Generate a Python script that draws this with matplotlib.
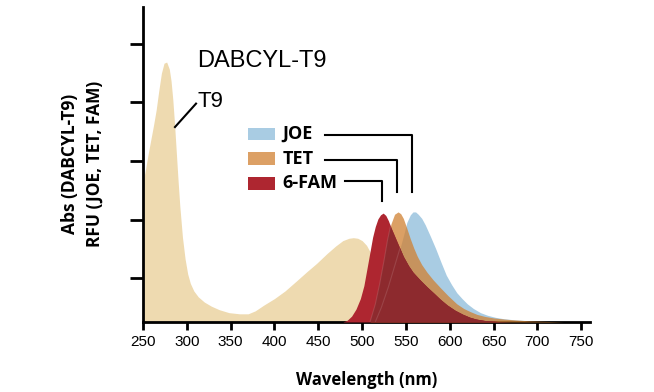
import numpy as np
import matplotlib.pyplot as plt
from matplotlib.patches import Rectangle

# DABCYL-T9 absorbance
t9_nm = [250, 253, 256, 259, 262, 265, 268, 271, 274, 277, 280, 282, 284, 286, 288,
         290, 292, 295, 298, 301, 304, 308, 313, 320, 328, 337, 348, 360, 370, 378,
         388, 400, 412, 425, 437, 448, 460, 470, 478, 485, 490, 495, 500, 505, 509,
         513, 517, 521, 525, 530, 535]
t9_val = [2.38, 2.62, 2.88, 3.12, 3.36, 3.62, 3.95, 4.25, 4.42, 4.44, 4.32, 4.12, 3.8, 3.38, 2.9,
          2.42, 1.98, 1.45, 1.08, 0.82, 0.66, 0.53, 0.43, 0.34, 0.27, 0.21, 0.16, 0.14, 0.14, 0.19,
          0.29, 0.4, 0.53, 0.7, 0.86, 1.0, 1.17, 1.3, 1.39, 1.43, 1.44, 1.43, 1.39, 1.31, 1.2,
          1.0, 0.75, 0.45, 0.2, 0.05, 0.0]

# JOE emission
joe_nm = [515, 522, 530, 538, 544, 548, 551, 555, 558, 561, 564, 568, 572, 578,
          584, 590, 596, 602, 608, 614, 620, 627, 635, 643, 652, 662, 675, 690, 707, 722]
joe_val = [0.0, 0.25, 0.6, 1.0, 1.3, 1.52, 1.7, 1.83, 1.88, 1.88, 1.84, 1.77, 1.66, 1.46,
           1.25, 1.02, 0.8, 0.64, 0.5, 0.4, 0.31, 0.23, 0.16, 0.115, 0.08, 0.055, 0.035, 0.022, 0.012, 0.0]

# TET emission
tet_nm = [509, 515, 520, 525, 529, 533, 537, 541, 544, 547, 551, 555, 559, 563,
          568, 574, 581, 589, 598, 608, 616, 623, 631, 640, 650, 662, 675, 690, 710, 730]
tet_val = [0.0, 0.3, 0.65, 1.05, 1.4, 1.68, 1.84, 1.88, 1.85, 1.77, 1.6, 1.42, 1.26, 1.12,
           0.98, 0.85, 0.72, 0.59, 0.45, 0.31, 0.23, 0.18, 0.13, 0.095, 0.07, 0.05, 0.035, 0.02, 0.01, 0.0]

# 6-FAM emission
fam_nm = [478, 483, 488, 493, 498, 502, 506, 509, 512, 515, 518, 521, 524, 527, 530,
          533, 537, 541, 547, 553, 558, 566, 574, 582, 589, 597, 606, 615, 623, 630,
          640, 655, 670]
fam_val = [0.0, 0.03, 0.1, 0.22, 0.4, 0.62, 0.95, 1.2, 1.45, 1.63, 1.76, 1.83, 1.86, 1.82, 1.73,
           1.61, 1.47, 1.33, 1.12, 0.96, 0.85, 0.72, 0.6, 0.49, 0.39, 0.29, 0.2, 0.13, 0.08, 0.05,
           0.025, 0.008, 0.0]

xticks = [250, 300, 350, 400, 450, 500, 550, 600, 650, 700, 750]

C_T9 = "#EEDAB0"
C_JOE = "#A9CCE3"
C_TET = "#D08031"     # drawn at alpha 0.75 -> looks like #DCA065 on white
C_FAM = "#AE2630"
C_FAM_DARK = "#8D2A2E"

fig = plt.figure(figsize=(6.54, 3.92), dpi=100)
ax = fig.add_axes([143 / 654, 70 / 392, 447 / 654, 315 / 392])

ax.fill_between(t9_nm, t9_val, 0, color=C_T9, lw=0, zorder=1)
joe_poly = ax.fill_between(joe_nm, joe_val, 0, color=C_JOE, lw=0, zorder=2)
tet_poly = ax.fill_between(tet_nm, tet_val, 0, color=C_TET, alpha=0.75, lw=0, zorder=3)
fam_poly = ax.fill_between(fam_nm, fam_val, 0, color=C_FAM, lw=0, zorder=4)

# darker red where 6-FAM sits over TET / JOE
for under in (tet_poly, joe_poly):
    dark = ax.fill_between(fam_nm, fam_val, 0, color=C_FAM_DARK, lw=0, zorder=4.5)
    dark.set_clip_path(under.get_paths()[0], ax.transData)

# faint edges of TET / JOE showing through the red
for xs, ys in ((tet_nm, tet_val), (joe_nm, joe_val)):
    ln, = ax.plot(xs, ys, color="white", alpha=0.12, lw=0.8, zorder=5)
    ln.set_clip_path(fam_poly.get_paths()[0], ax.transData)

ax.set_xlim(250, 760)
ax.set_ylim(0, 5.38)
ax.set_xticks(xticks)
ax.set_yticks([0.75, 1.75, 2.75, 3.75, 4.75])
ax.set_yticklabels([])
for s in ["top", "right"]:
    ax.spines[s].set_visible(False)
for s in ["left", "bottom"]:
    ax.spines[s].set_linewidth(2)
ax.tick_params(axis="x", length=6, width=2, labelsize=11, pad=3)
ax.tick_params(axis="y", length=9.5, width=2)
for lbl in ax.get_xticklabels():
    lbl.set_family("Liberation Sans")

ax.set_xlabel("Wavelength (nm)", fontsize=12, fontweight="bold",
              family="Open Sans", labelpad=16)
fig.text(0.107, 0.582, "Abs (DABCYL-T9)", rotation=90, ha="center", va="center",
         fontsize=12.5, fontweight="bold", family="Open Sans")
fig.text(0.145, 0.582, "RFU (JOE, TET, FAM)", rotation=90, ha="center", va="center",
         fontsize=12.5, fontweight="bold", family="Open Sans")

# annotations
ax.text(312, 4.46, "DABCYL-T9", fontsize=17, family="Liberation Sans",
        ha="left", va="center", zorder=6)
ax.text(312, 3.76, "T9", fontsize=16, family="Liberation Sans",
        ha="left", va="center", zorder=6)
ax.plot([286.5, 310.5], [3.33, 3.73], color="black", lw=1.5, zorder=6)

# legend with leader lines
names = ["JOE", "TET", "6-FAM"]
cols = [C_JOE, "#DCA065", C_FAM]
peaks = [joe_nm[np.argmax(joe_val)], tet_nm[np.argmax(tet_val)], fam_nm[np.argmax(fam_val)]]
row_y = [3.21, 2.79, 2.37]
line_y = [3.20, 2.77, 2.41]
line_start = [458, 458, 480]
line_end = [2.22, 2.22, 2.07]
for name, c, pk, y, ly, xs, ye in zip(names, cols, peaks, row_y, line_y, line_start, line_end):
    ax.add_patch(Rectangle((370, y - 0.11), 31, 0.22, facecolor=c, lw=0, zorder=6))
    ax.text(409, y, name, fontsize=13, fontweight="bold", family="Open Sans",
            ha="left", va="center", zorder=6)
    ax.plot([xs, pk - 1, pk - 1], [ly, ly, ye], color="black", lw=1.5, zorder=6)

fig.savefig("out.png", dpi=100)
